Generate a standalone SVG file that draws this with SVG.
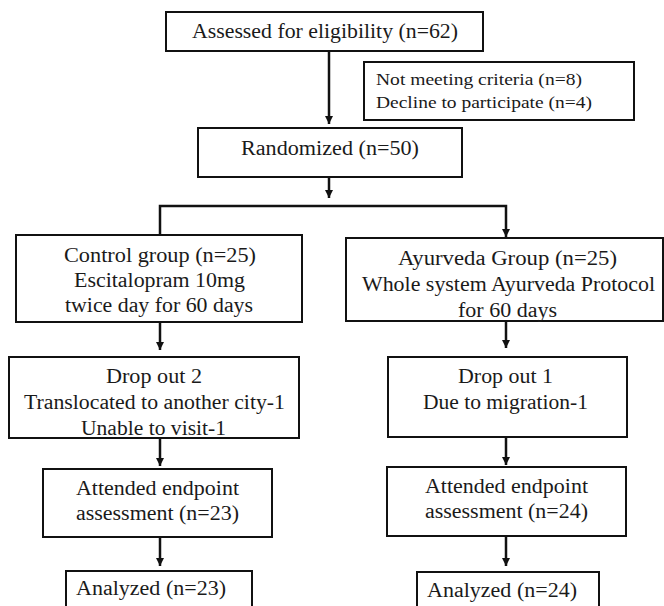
<svg xmlns="http://www.w3.org/2000/svg" width="664" height="606" viewBox="0 0 664 606">
<style>
.box{fill:#fff;stroke:#111;stroke-width:2}
.t{font-family:"Liberation Serif","Times New Roman",serif;font-size:20px;fill:#1a1a1a;text-anchor:middle}
.s{font-family:"Liberation Serif","Times New Roman",serif;font-size:16.5px;fill:#1a1a1a}
.c{fill:none;stroke:#111;stroke-width:2.5}
</style>
<defs>
<marker id="ah" viewBox="0 0 10 10" refX="10" refY="5" markerWidth="3.4" markerHeight="3.4" markerUnits="strokeWidth" orient="auto">
<path d="M0,0 L10,5 L0,10 Z" fill="#111"/>
</marker>
</defs>
<rect width="664" height="606" fill="#fff"/>
<g id="connectors">
<path class="c" d="M329,51 V124" marker-end="url(#ah)"/>
<path class="c" d="M329,177 V198" marker-end="url(#ah)"/>
<path class="c" d="M160,234 V206 H506 V237" marker-end="url(#ah)"/>
<path class="c" d="M160,322 V350" marker-end="url(#ah)"/>
<path class="c" d="M506,321 V348" marker-end="url(#ah)"/>
<path class="c" d="M160,438 V466" marker-end="url(#ah)"/>
<path class="c" d="M506,437 V465" marker-end="url(#ah)"/>
<path class="c" d="M160,537 V566" marker-end="url(#ah)"/>
<path class="c" d="M506,536 V566" marker-end="url(#ah)"/>
</g>
<g id="assessed">
<rect class="box" x="166" y="12" width="317" height="39"/>
<text class="t" x="325" y="38" textLength="266" lengthAdjust="spacingAndGlyphs">Assessed for eligibility  (n=62)</text>
</g>
<g id="excluded">
<rect class="box" x="364" y="62" width="270" height="58"/>
<text class="s" x="376" y="85" textLength="206" lengthAdjust="spacingAndGlyphs">Not meeting  criteria (n=8)</text>
<text class="s" x="376" y="108" textLength="216" lengthAdjust="spacingAndGlyphs">Decline to participate  (n=4)</text>
</g>
<g id="randomized">
<rect class="box" x="198" y="128" width="264" height="49"/>
<text class="t" x="330" y="155" textLength="178" lengthAdjust="spacingAndGlyphs">Randomized (n=50)</text>
</g>
<g id="control">
<rect class="box" x="16" y="235" width="286" height="87"/>
<text class="t" x="160" y="262" textLength="192" lengthAdjust="spacingAndGlyphs">Control group (n=25)</text>
<text class="t" x="159.5" y="287" textLength="171" lengthAdjust="spacingAndGlyphs">Escitalopram 10mg</text>
<text class="t" x="159" y="312" textLength="188" lengthAdjust="spacingAndGlyphs">twice day for 60 days</text>
</g>
<g id="ayurveda">
<rect class="box" x="346" y="238" width="317" height="83"/>
<text class="t" x="507.5" y="265" textLength="219" lengthAdjust="spacingAndGlyphs">Ayurveda Group   (n=25)</text>
<text class="t" x="508.5" y="291" textLength="293" lengthAdjust="spacingAndGlyphs">Whole system Ayurveda Protocol</text>
<text class="t" x="507.5" y="317" textLength="99" lengthAdjust="spacingAndGlyphs">for 60 days</text>
</g>
<g id="dropout2">
<rect class="box" x="9" y="357" width="290" height="81"/>
<text class="t" x="154" y="383" textLength="96" lengthAdjust="spacingAndGlyphs">Drop out 2</text>
<text class="t" x="154.5" y="409" textLength="261" lengthAdjust="spacingAndGlyphs">Translocated to another city-1</text>
<text class="t" x="153.5" y="435" textLength="145" lengthAdjust="spacingAndGlyphs">Unable to visit-1</text>
</g>
<g id="dropout1">
<rect class="box" x="388" y="357" width="239" height="80"/>
<text class="t" x="505.5" y="383" textLength="95" lengthAdjust="spacingAndGlyphs">Drop out 1</text>
<text class="t" x="505.5" y="409" textLength="165" lengthAdjust="spacingAndGlyphs">Due to migration-1</text>
</g>
<g id="attended23">
<rect class="box" x="43" y="469" width="229" height="68"/>
<text class="t" x="157.5" y="495" textLength="163" lengthAdjust="spacingAndGlyphs">Attended endpoint</text>
<text class="t" x="157.5" y="520" textLength="163" lengthAdjust="spacingAndGlyphs">assessment (n=23)</text>
</g>
<g id="attended24">
<rect class="box" x="387" y="467" width="239" height="69"/>
<text class="t" x="506.5" y="493" textLength="163" lengthAdjust="spacingAndGlyphs">Attended endpoint</text>
<text class="t" x="506.5" y="518" textLength="163" lengthAdjust="spacingAndGlyphs">assessment (n=24)</text>
</g>
<g id="analyzed23">
<rect class="box" x="66" y="571" width="186" height="45"/>
<text class="t" x="151" y="595" textLength="150" lengthAdjust="spacingAndGlyphs">Analyzed (n=23)</text>
</g>
<g id="analyzed24">
<rect class="box" x="417" y="572" width="182" height="45"/>
<text class="t" x="502" y="597" textLength="150" lengthAdjust="spacingAndGlyphs">Analyzed (n=24)</text>
</g>
</svg>
